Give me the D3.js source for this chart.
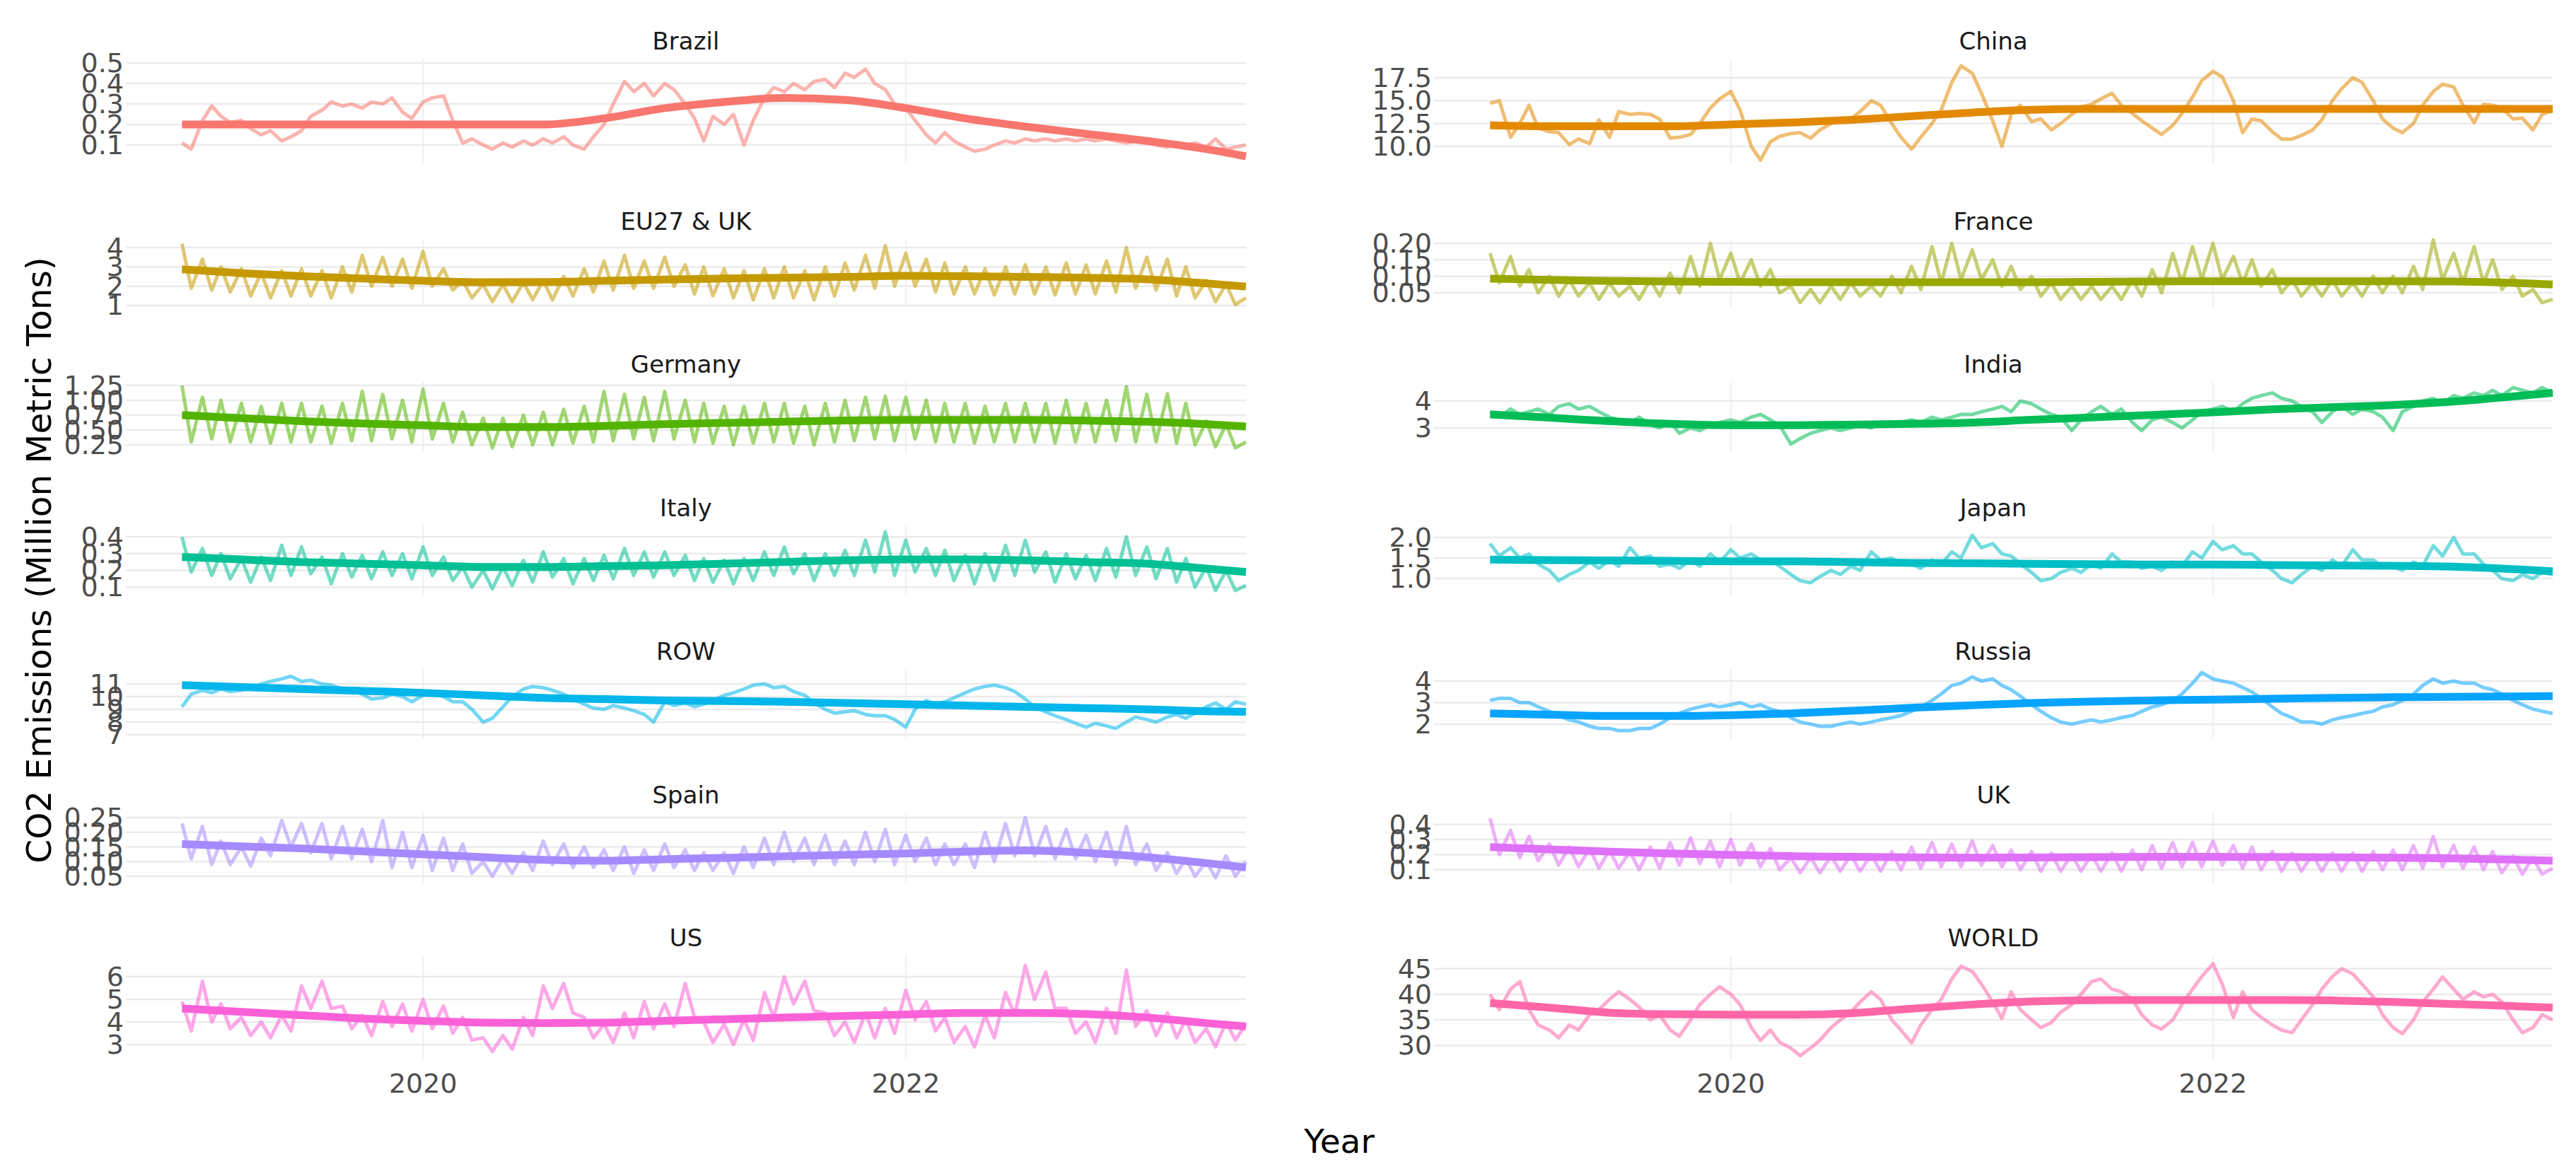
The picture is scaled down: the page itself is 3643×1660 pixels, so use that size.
<!DOCTYPE html>
<html>
<head>
<meta charset="utf-8">
<script src="https://cdn.jsdelivr.net/npm/d3@7"></script>
<style>
  body { margin: 0; background: #fff; }
  svg { display: block; }
  text { font-family: "DejaVu Sans", Verdana, sans-serif; }
</style>
</head>
<body>
<svg id="canvas"></svg>
<script>
// facets, in panel order (2 columns)
const countries = ["Brazil", "China", "EU27 & UK", "France", "Germany", "India", "Italy",
                   "Japan", "ROW", "Russia", "Spain", "UK", "US", "WORLD"];
const colors = ["#F8766D", "#E38900", "#C49A00", "#99A800", "#53B400", "#00BC56", "#00C094",
                "#00BFC4", "#00B6EB", "#06A4FF", "#A58AFF", "#DF70F8", "#FB61D7", "#FF66A8"];

// readings every half month (1st and 15th), 2019-01-01 .. 2023-05-15, then 2023-05-31
const brazil = [0.11,0.08,0.22,0.29,0.24,0.21,0.22,0.18,0.15,0.17,0.12,0.14,0.17,0.24,0.27,0.31,0.29,0.30,0.28,0.31,0.30,0.33,0.26,0.23,
  0.31,0.33,0.34,0.22,0.11,0.13,0.10,0.08,0.11,0.09,0.12,0.10,0.13,0.11,0.14,0.10,0.08,0.14,0.20,0.30,0.41,0.36,0.40,0.34,
  0.40,0.37,0.30,0.23,0.12,0.24,0.20,0.25,0.10,0.22,0.33,0.38,0.36,0.40,0.37,0.41,0.42,0.38,0.45,0.43,0.47,0.40,0.37,0.30,
  0.28,0.22,0.15,0.11,0.16,0.12,0.09,0.07,0.08,0.10,0.12,0.11,0.13,0.12,0.13,0.12,0.13,0.12,0.13,0.12,0.13,0.12,0.11,0.12,
  0.11,0.10,0.09,0.11,0.10,0.11,0.09,0.13,0.08,0.09,0.10];
const china = [14.7,15.0,11.0,12.5,14.5,12.0,11.6,11.5,10.2,10.8,10.3,12.9,11.0,13.8,13.5,13.6,13.5,13.0,10.9,11.0,11.3,12.5,14.2,15.2,
  16.0,14.0,10.0,8.5,10.5,11.1,11.4,11.5,10.9,11.8,12.5,12.9,13.0,13.8,15.0,14.5,12.5,11.0,9.7,11.0,12.5,14.0,17.0,18.8,
  18.0,15.8,12.8,10.0,13.5,14.5,12.7,13.0,11.8,12.5,13.5,14.3,14.6,15.2,15.8,14.5,13.6,12.8,12.0,11.3,12.3,13.6,15.4,17.2,
  18.2,17.6,15.0,11.5,13.0,12.8,11.6,10.8,10.8,11.2,11.8,12.9,15.0,16.3,17.5,17.0,15.0,13.0,12.0,11.5,12.5,14.5,16.0,16.8,
  16.5,14.5,12.6,14.6,14.5,14.2,13.0,13.1,11.8,13.5,13.9];
const eu = [4.2,1.9,3.4,1.8,3.0,1.7,2.9,1.5,2.7,1.4,2.8,1.5,2.9,1.5,2.8,1.4,3.0,1.7,3.6,2.0,3.5,2.0,3.4,1.9,
  3.8,2.0,2.9,1.8,2.3,1.4,2.1,1.2,2.1,1.2,2.2,1.3,2.3,1.3,2.5,1.5,2.9,1.7,3.3,1.8,3.6,1.9,3.3,1.9,
  3.5,2.0,3.1,1.6,3.0,1.5,2.9,1.4,2.8,1.3,2.9,1.4,3.0,1.4,2.8,1.3,3.0,1.5,3.2,1.8,3.6,1.9,4.1,2.0,
  3.7,2.0,3.4,1.7,3.2,1.6,3.0,1.6,2.9,1.55,3.0,1.6,3.1,1.6,3.0,1.55,3.2,1.6,3.1,1.6,3.3,1.7,4.0,1.9,
  3.5,1.8,3.4,1.5,3.0,1.4,2.3,1.2,2.1,1.05,1.4];
const france = [0.17,0.08,0.16,0.07,0.12,0.05,0.10,0.04,0.09,0.04,0.08,0.03,0.08,0.04,0.07,0.03,0.09,0.04,0.11,0.05,0.16,0.07,0.20,0.09,
  0.17,0.08,0.15,0.07,0.12,0.05,0.07,0.02,0.06,0.02,0.07,0.03,0.08,0.04,0.07,0.04,0.10,0.05,0.13,0.06,0.19,0.08,0.20,0.09,
  0.18,0.09,0.15,0.07,0.13,0.06,0.10,0.04,0.08,0.03,0.07,0.03,0.07,0.03,0.07,0.03,0.09,0.04,0.12,0.05,0.17,0.08,0.19,0.09,
  0.20,0.09,0.16,0.08,0.15,0.07,0.12,0.05,0.09,0.04,0.08,0.04,0.09,0.04,0.08,0.04,0.10,0.05,0.10,0.05,0.13,0.06,0.21,0.09,
  0.17,0.08,0.19,0.08,0.15,0.06,0.10,0.04,0.06,0.02,0.03];
const germany = [1.25,0.30,1.05,0.35,1.00,0.30,0.95,0.30,0.90,0.28,0.95,0.30,0.95,0.30,0.90,0.28,0.95,0.32,1.15,0.32,1.10,0.35,1.00,0.30,
  1.19,0.35,0.95,0.30,0.80,0.25,0.70,0.20,0.70,0.22,0.75,0.25,0.80,0.25,0.85,0.28,0.90,0.30,1.15,0.32,1.10,0.35,1.05,0.32,
  1.15,0.35,1.00,0.30,0.95,0.28,0.90,0.25,0.90,0.28,0.95,0.30,0.95,0.28,0.90,0.25,0.95,0.30,1.00,0.32,1.05,0.35,1.07,0.32,
  1.05,0.35,1.00,0.30,0.95,0.30,0.95,0.28,0.90,0.30,0.95,0.30,0.95,0.30,0.95,0.28,1.00,0.30,0.95,0.30,1.00,0.32,1.23,0.30,
  1.10,0.30,1.11,0.28,0.95,0.25,0.65,0.22,0.60,0.20,0.30];
const india = [3.6,3.4,3.7,3.5,3.6,3.7,3.5,3.8,3.9,3.7,3.8,3.6,3.4,3.3,3.2,3.4,3.1,3.0,3.2,2.8,3.0,2.9,3.1,3.2,
  3.3,3.2,3.4,3.5,3.3,3.1,2.4,2.6,2.8,2.9,3.0,2.9,3.0,3.1,3.0,3.2,3.1,3.2,3.3,3.2,3.4,3.3,3.4,3.5,
  3.5,3.6,3.7,3.8,3.6,4.0,3.9,3.7,3.5,3.4,2.9,3.3,3.6,3.8,3.5,3.7,3.2,2.9,3.3,3.4,3.2,3.0,3.3,3.6,
  3.7,3.8,3.6,3.9,4.1,4.2,4.3,4.1,4.0,3.8,3.6,3.2,3.6,3.8,3.5,3.7,3.6,3.4,2.9,3.6,3.8,4.0,4.1,3.9,
  4.2,4.1,4.3,4.2,4.4,4.2,4.5,4.4,4.3,4.5,4.3];
const italy = [0.40,0.19,0.33,0.17,0.30,0.15,0.27,0.13,0.28,0.14,0.35,0.17,0.34,0.18,0.28,0.12,0.30,0.16,0.29,0.15,0.31,0.17,0.30,0.15,
  0.34,0.17,0.28,0.14,0.22,0.10,0.20,0.09,0.22,0.11,0.26,0.13,0.31,0.16,0.27,0.12,0.27,0.14,0.29,0.15,0.33,0.17,0.31,0.16,
  0.31,0.17,0.29,0.14,0.27,0.13,0.26,0.12,0.27,0.14,0.31,0.17,0.34,0.18,0.30,0.14,0.30,0.17,0.32,0.17,0.38,0.19,0.43,0.17,
  0.38,0.19,0.33,0.17,0.32,0.14,0.29,0.12,0.30,0.14,0.35,0.17,0.38,0.19,0.31,0.13,0.30,0.15,0.29,0.14,0.33,0.16,0.40,0.17,
  0.34,0.15,0.33,0.13,0.27,0.10,0.22,0.08,0.20,0.08,0.11];
const japan = [1.85,1.55,1.75,1.50,1.60,1.35,1.20,0.95,1.10,1.20,1.40,1.25,1.45,1.30,1.75,1.50,1.55,1.30,1.35,1.25,1.45,1.30,1.60,1.40,
  1.70,1.50,1.60,1.45,1.45,1.30,1.10,0.95,0.90,1.05,1.20,1.10,1.30,1.20,1.65,1.45,1.50,1.35,1.35,1.25,1.45,1.35,1.65,1.50,
  2.05,1.75,1.85,1.60,1.55,1.35,1.15,0.95,1.00,1.15,1.25,1.15,1.35,1.25,1.60,1.40,1.40,1.25,1.30,1.20,1.40,1.30,1.65,1.50,
  1.90,1.70,1.80,1.60,1.60,1.40,1.20,1.00,0.90,1.10,1.30,1.20,1.45,1.30,1.70,1.45,1.45,1.30,1.30,1.20,1.40,1.30,1.80,1.55,
  2.00,1.60,1.60,1.35,1.20,1.00,0.95,1.10,1.00,1.15,1.10];
const row = [9.2,10.2,10.5,10.3,10.6,10.4,10.5,10.7,11.0,11.2,11.4,11.6,11.2,11.3,11.0,10.9,10.6,10.5,10.2,9.8,9.9,10.2,10.0,9.6,
  10.1,10.3,10.0,9.6,9.6,9.0,8.0,8.3,9.2,10.0,10.6,10.8,10.7,10.5,10.2,9.8,9.4,9.1,9.0,9.3,9.1,8.9,8.6,8.0,
  9.6,9.3,9.5,9.2,9.4,9.7,10.1,10.3,10.6,10.9,11.0,10.7,10.8,10.4,10.1,9.5,9.0,8.7,8.8,8.9,8.6,8.5,8.5,8.2,
  7.6,9.0,9.7,9.4,9.6,9.9,10.3,10.6,10.8,10.9,10.7,10.4,9.8,9.2,8.8,8.5,8.2,7.9,7.6,7.9,7.7,7.5,8.0,8.4,
  8.2,8.0,8.4,8.6,8.3,8.7,9.2,9.5,9.0,9.6,9.4];
const russia = [3.1,3.2,3.2,3.0,3.0,2.8,2.6,2.4,2.2,2.1,1.9,1.8,1.8,1.7,1.7,1.8,1.8,2.0,2.3,2.5,2.7,2.8,2.9,2.8,
  2.9,3.0,2.8,2.9,2.7,2.6,2.3,2.1,2.0,1.9,1.9,2.0,2.1,2.0,2.1,2.2,2.3,2.4,2.6,2.8,3.1,3.4,3.8,3.9,
  4.2,4.0,4.1,3.8,3.6,3.3,2.9,2.6,2.3,2.1,2.0,2.1,2.2,2.1,2.2,2.3,2.4,2.6,2.8,2.9,3.1,3.4,3.9,4.4,
  4.1,4.0,3.9,3.7,3.5,3.2,2.8,2.5,2.3,2.1,2.1,2.0,2.2,2.3,2.4,2.5,2.6,2.8,2.9,3.1,3.4,3.8,4.1,3.9,
  4.0,3.9,3.9,3.7,3.6,3.4,3.1,2.9,2.7,2.6,2.5];
const spain = [0.23,0.11,0.22,0.09,0.17,0.09,0.15,0.085,0.18,0.12,0.24,0.15,0.23,0.13,0.23,0.11,0.22,0.11,0.21,0.10,0.24,0.08,0.20,0.08,
  0.19,0.07,0.18,0.07,0.16,0.06,0.10,0.05,0.11,0.06,0.13,0.07,0.17,0.09,0.16,0.08,0.15,0.08,0.14,0.07,0.15,0.06,0.14,0.07,
  0.16,0.08,0.14,0.07,0.13,0.07,0.13,0.06,0.15,0.08,0.18,0.09,0.20,0.10,0.18,0.09,0.19,0.09,0.17,0.09,0.20,0.10,0.21,0.09,
  0.19,0.10,0.18,0.09,0.16,0.09,0.16,0.08,0.20,0.10,0.23,0.12,0.25,0.12,0.22,0.11,0.21,0.11,0.19,0.10,0.20,0.09,0.22,0.09,
  0.16,0.07,0.13,0.06,0.11,0.05,0.10,0.045,0.12,0.05,0.10];
const uk = [0.44,0.20,0.36,0.18,0.32,0.16,0.27,0.13,0.25,0.12,0.24,0.11,0.23,0.11,0.22,0.10,0.25,0.11,0.28,0.13,0.31,0.14,0.29,0.12,
  0.30,0.13,0.27,0.12,0.24,0.10,0.18,0.08,0.18,0.08,0.19,0.09,0.20,0.09,0.20,0.09,0.22,0.10,0.25,0.11,0.28,0.12,0.27,0.12,
  0.29,0.13,0.26,0.12,0.23,0.10,0.22,0.09,0.21,0.09,0.20,0.09,0.20,0.09,0.21,0.09,0.23,0.10,0.26,0.11,0.28,0.12,0.28,0.12,
  0.29,0.13,0.26,0.11,0.25,0.10,0.22,0.09,0.21,0.09,0.20,0.09,0.21,0.09,0.21,0.09,0.22,0.10,0.23,0.10,0.26,0.11,0.32,0.12,
  0.26,0.11,0.25,0.10,0.22,0.08,0.19,0.07,0.18,0.07,0.11];
const us = [4.9,3.6,5.8,4.0,4.8,3.7,4.2,3.4,4.0,3.3,4.3,3.6,5.6,4.6,5.8,4.6,4.7,3.7,4.3,3.4,4.9,3.8,4.8,3.6,
  5.0,3.7,4.7,3.5,4.2,3.2,3.3,2.7,3.4,2.8,4.2,3.4,5.6,4.6,5.7,4.4,4.2,3.3,3.9,3.1,4.4,3.3,4.9,3.7,
  4.8,3.8,5.7,4.2,4.0,3.1,3.9,3.0,4.1,3.2,5.3,4.2,6.0,4.8,5.8,4.5,4.4,3.4,4.0,3.1,4.4,3.3,4.6,3.5,
  5.4,4.1,4.9,3.6,4.2,3.1,3.8,2.9,4.3,3.3,5.3,4.3,6.5,5.0,6.2,4.6,4.6,3.5,4.0,3.1,4.6,3.5,6.3,3.8,
  4.5,3.4,4.4,3.3,4.1,3.1,3.7,2.9,4.0,3.2,3.9];
const world = [40,37,41,42.5,37,34,33,31.5,34,33,36,37,39,40.5,39,37.5,35,36,33,31.8,35,38,40,41.5,
  40,38,33.5,31,33,30.6,29.5,28,29.5,31,33.5,35,36.5,38.5,40.5,39,35,33,30.5,34,37,39,43,45.5,
  44.5,42,38.5,35.3,40.5,37,35,33.5,34.5,36.5,38,40,42.5,43,41,40.5,39,36,34,33.2,35,38,41,43.5,
  46,42,35.5,40.5,37,35.5,34,33,32.5,35,38,41,43.5,45,44,42,39.5,36,33.5,32.3,35,38.5,41,43.4,
  41,39,40.5,39.5,40,38.5,35,32.5,33.5,36,35];
const dailyValues = [brazil, china, eu, france, germany, india, italy, japan, row, russia, spain, uk, us, world];

// smoothed trend, read quarterly (2019-01-01 .. 2023-04-01) plus 2023-05-31
const brazilTrend  = [0.20,0.20,0.20,0.20,0.20,0.20,0.20,0.23,0.28,0.31,0.33,0.32,0.28,0.23,0.19,0.155,0.12,0.08,0.045];
const chinaTrend   = [12.3,12.2,12.2,12.2,12.4,12.6,12.9,13.3,13.7,14.0,14.1,14.1,14.1,14.1,14.1,14.1,14.1,14.1,14.1];
const euTrend      = [2.88,2.68,2.52,2.40,2.28,2.21,2.22,2.28,2.35,2.40,2.44,2.48,2.54,2.52,2.48,2.44,2.36,2.15,1.98];
const franceTrend  = [0.093,0.089,0.086,0.084,0.083,0.082,0.082,0.082,0.082,0.082,0.083,0.084,0.085,0.085,0.085,0.085,0.084,0.080,0.075];
const germanyTrend = [0.75,0.70,0.65,0.61,0.58,0.55,0.55,0.57,0.60,0.62,0.64,0.66,0.67,0.67,0.67,0.66,0.64,0.60,0.56];
const indiaTrend   = [3.5,3.38,3.25,3.15,3.1,3.1,3.12,3.15,3.2,3.3,3.39,3.48,3.58,3.69,3.77,3.85,3.98,4.17,4.3];
const italyTrend   = [0.28,0.265,0.25,0.24,0.23,0.22,0.22,0.225,0.23,0.24,0.25,0.26,0.265,0.265,0.26,0.25,0.24,0.21,0.19];
const japanTrend   = [1.46,1.45,1.44,1.43,1.42,1.42,1.40,1.38,1.37,1.36,1.35,1.34,1.34,1.33,1.32,1.31,1.29,1.23,1.18];
const rowTrend     = [10.9,10.75,10.6,10.45,10.3,10.1,9.9,9.8,9.7,9.65,9.6,9.5,9.4,9.3,9.2,9.1,9.0,8.85,8.8];
const russiaTrend  = [2.5,2.44,2.38,2.38,2.42,2.5,2.62,2.76,2.88,2.98,3.05,3.1,3.14,3.18,3.22,3.25,3.27,3.29,3.3];
const spainTrend   = [0.16,0.152,0.145,0.135,0.125,0.115,0.106,0.103,0.108,0.113,0.118,0.123,0.128,0.134,0.138,0.13,0.115,0.095,0.08];
const ukTrend      = [0.25,0.235,0.22,0.208,0.198,0.19,0.185,0.182,0.18,0.181,0.183,0.185,0.185,0.184,0.182,0.18,0.175,0.167,0.16];
const usTrend      = [4.6,4.45,4.3,4.15,4.05,3.97,3.95,3.97,4.05,4.12,4.2,4.27,4.33,4.4,4.4,4.35,4.2,3.95,3.8];
const worldTrend   = [38.3,37.4,36.4,36.1,36.0,36.0,36.3,37.2,38.0,38.6,38.85,38.9,38.9,38.9,38.8,38.5,38.1,37.7,37.4];
const trendValues = [brazilTrend, chinaTrend, euTrend, franceTrend, germanyTrend, indiaTrend, italyTrend,
                     japanTrend, rowTrend, russiaTrend, spainTrend, ukTrend, usTrend, worldTrend];

// tick labels
const yTickLabels = [
  ["0.1","0.2","0.3","0.4","0.5"], ["10.0","12.5","15.0","17.5"],
  ["1","2","3","4"], ["0.05","0.10","0.15","0.20"],
  ["0.25","0.50","0.75","1.00","1.25"], ["3","4"],
  ["0.1","0.2","0.3","0.4"], ["1.0","1.5","2.0"],
  ["7","8","9","10","11"], ["2","3","4"],
  ["0.05","0.10","0.15","0.20","0.25"], ["0.1","0.2","0.3","0.4"],
  ["3","4","5","6"], ["30","35","40","45"]
];
const xTickLabels = ["2020", "2022"];

// y range shown in each panel
const yDomains = [[0.014,0.521],[8.22,19.59],[0.93,4.44],[0.007,0.213],[0.12,1.31],[2.08,4.71],[0.05,0.468],
                  [0.59,2.29],[6.72,12.17],[1.34,4.56],[0.026,0.267],[0.01,0.478],[2.375,6.94],[27.4,47.6]];

// dates
const parse = d3.utcParse("%Y-%m-%d");
const dailyDates = d3.utcMonth.range(parse("2019-01-01"), parse("2023-06-01"))
  .flatMap(m => [m, d3.utcDay.offset(m, 14)]);
dailyDates.push(parse("2023-05-31"));
const trendDates = d3.utcMonth.every(3).range(parse("2019-01-01"), parse("2023-05-01"));
trendDates.push(parse("2023-05-31"));

// layout
const width = 3643, height = 1660;
const colX = [[178, 1762], [2028, 3610]];
const rowY = [[83, 230], [338, 434], [540, 640], [743, 842], [946, 1044], [1149, 1249], [1351, 1497]];

const svg = d3.select("#canvas").attr("width", width).attr("height", height);
svg.append("rect").attr("width", width).attr("height", height).attr("fill", "#fff");

countries.forEach((name, i) => {
  const [x0, x1] = colX[i % 2];
  const [y0, y1] = rowY[Math.floor(i / 2)];

  const xScale = d3.scaleUtc()
    .domain([parse("2018-10-08"), parse("2023-05-31")])
    .range([x0, x1]);
  const yScale = d3.scaleLinear().domain(yDomains[i]).range([y1, y0]);

  const g = svg.append("g");

  // grid
  g.selectAll(".hgrid").data(yTickLabels[i]).join("line")
    .attr("x1", x0).attr("x2", x1)
    .attr("y1", d => yScale(+d)).attr("y2", d => yScale(+d))
    .attr("stroke", "#EBEBEB").attr("stroke-width", 2.5);
  g.selectAll(".vgrid").data(xTickLabels).join("line")
    .attr("x1", d => xScale(parse(d + "-01-01"))).attr("x2", d => xScale(parse(d + "-01-01")))
    .attr("y1", y0).attr("y2", y1)
    .attr("stroke", "#EBEBEB").attr("stroke-width", 1.5);

  // y tick labels
  g.selectAll(".ytick").data(yTickLabels[i]).join("text")
    .attr("x", x0 - 3).attr("y", d => yScale(+d))
    .attr("text-anchor", "end").attr("dominant-baseline", "central")
    .attr("font-size", 38).attr("fill", "#4D4D4D")
    .text(d => d);

  // strip title
  g.append("text")
    .attr("x", (x0 + x1) / 2).attr("y", y0 - 13)
    .attr("text-anchor", "middle")
    .attr("font-size", 34).attr("fill", "#1A1A1A")
    .text(name);

  // daily series
  const daily = dailyDates.map((d, k) => ({ date: d, value: dailyValues[i][k] }));
  g.append("path").datum(daily)
    .attr("fill", "none").attr("stroke", colors[i]).attr("stroke-opacity", 0.55)
    .attr("stroke-width", 5).attr("stroke-linejoin", "round")
    .attr("d", d3.line().x(d => xScale(d.date)).y(d => yScale(d.value)));

  // smoothed trend
  const trend = trendDates.map((d, k) => ({ date: d, value: trendValues[i][k] }));
  g.append("path").datum(trend)
    .attr("fill", "none").attr("stroke", colors[i])
    .attr("stroke-width", 11).attr("stroke-linecap", "butt")
    .attr("d", d3.line().curve(d3.curveMonotoneX).x(d => xScale(d.date)).y(d => yScale(d.value)));

  // x tick labels on bottom row
  if (Math.floor(i / 2) === rowY.length - 1) {
    svg.selectAll(null).data(xTickLabels).join("text")
      .attr("x", d => xScale(parse(d + "-01-01"))).attr("y", 1532)
      .attr("text-anchor", "middle").attr("dominant-baseline", "central")
      .attr("font-size", 38).attr("fill", "#4D4D4D")
      .text(d => d);
  }
});

// axis titles
svg.append("text")
  .attr("x", 1894).attr("y", 1613)
  .attr("text-anchor", "middle").attr("dominant-baseline", "central")
  .attr("font-size", 47).attr("fill", "#000")
  .text("Year");
svg.append("text")
  .attr("transform", "translate(55,792) rotate(-90)")
  .attr("text-anchor", "middle").attr("dominant-baseline", "central")
  .attr("font-size", 48.5).attr("fill", "#000")
  .text("CO2 Emissions (Million Metric Tons)");
</script>
</body>
</html>
